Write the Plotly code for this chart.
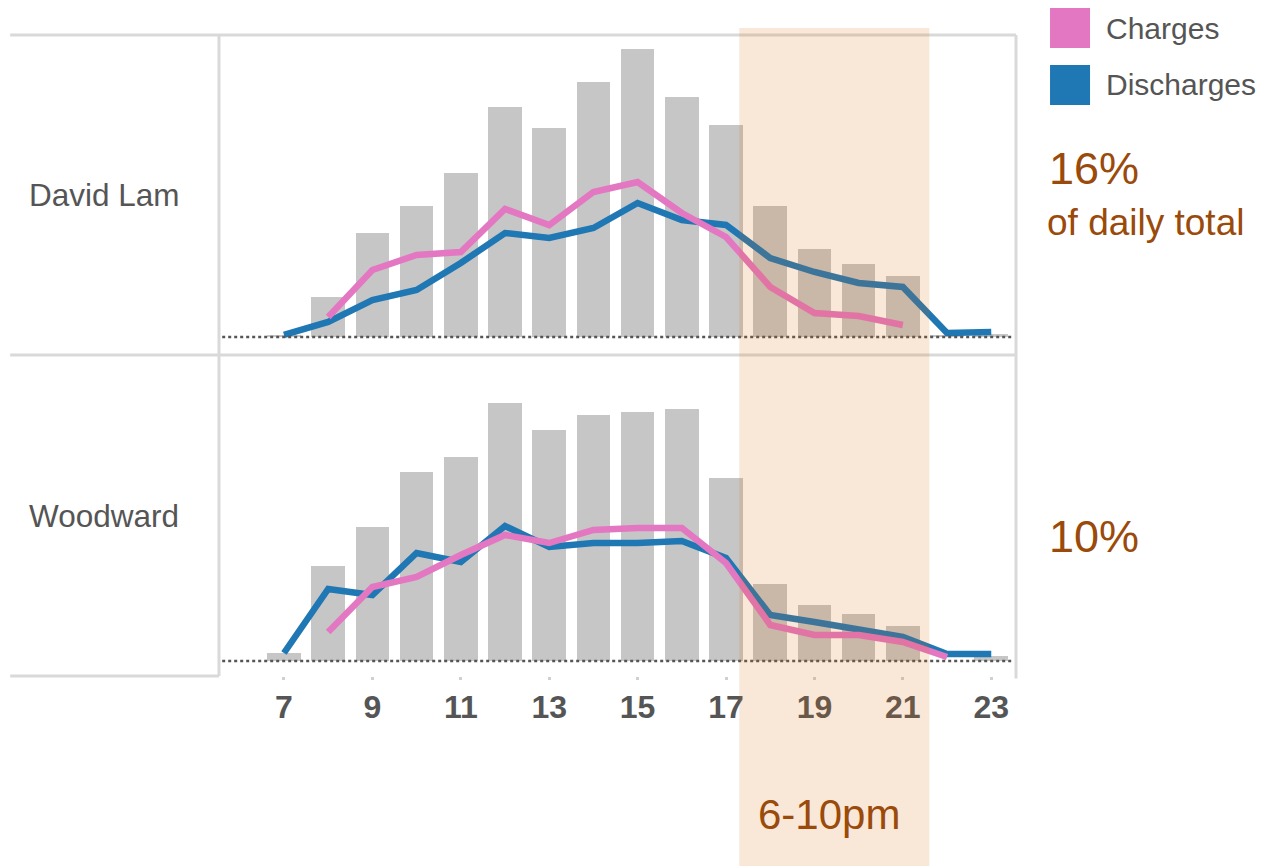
import plotly.graph_objects as go
from plotly.subplots import make_subplots

# hours of the day
hours = list(range(7, 24))
tick_hours = list(range(7, 24, 2))

# David Lam
lam_total = [2, 40, 104, 131, 164, 230, 209, 255, 288, 240, 212, 131, 88, 73, 61, 1, 3]
lam_charge_hours = list(range(8, 22))
lam_charges = [20, 67, 82, 85, 128, 112, 145, 155, 124, 100, 50, 24, 21, 12]
lam_discharges = [2, 15, 37, 47, 74, 104, 99, 109, 134, 117, 112, 79, 65, 54, 50, 4, 5]

# Woodward
wood_total = [8, 95, 134, 189, 204, 258, 231, 246, 249, 252, 183, 77, 56, 47, 35, 0, 5]
wood_charge_hours = list(range(8, 23))
wood_charges = [29, 74, 84, 106, 126, 118, 131, 133, 133, 98, 36, 26, 26, 19, 4]
wood_discharges = [8, 72, 66, 108, 99, 135, 114, 118, 118, 120, 103, 46, 39, 31, 24, 7, 7]

stations = ['David Lam', 'Woodward']
evening_share = ['16%', '10%']
peak_window = (17.3, 21.6)  # 6-10pm
peak_label = '6-10pm'

series_names = ['Charges', 'Discharges']
series_colors = ['#E377C2', '#1F77B4']
bar_color = '#C6C6C6'
accent = '#9A4A0A'
frame = '#D9D9D9'
font_family = 'Arial, Liberation Sans, sans-serif'

fig = make_subplots(rows=2, cols=1, shared_xaxes=True, vertical_spacing=0)

panels = [
    (lam_total, lam_charge_hours, lam_charges, lam_discharges),
    (wood_total, wood_charge_hours, wood_charges, wood_discharges),
]
for row, (total, ch_hours, charges, discharges) in enumerate(panels, start=1):
    fig.add_trace(go.Bar(x=hours, y=total, marker=dict(color=bar_color, line=dict(width=0)),
                         width=0.76, showlegend=False, hoverinfo='skip'), row=row, col=1)
    fig.add_trace(go.Scatter(x=hours, y=discharges, mode='lines', name=series_names[1],
                             line=dict(color=series_colors[1], width=6.5), showlegend=False),
                  row=row, col=1)
    fig.add_trace(go.Scatter(x=ch_hours, y=charges, mode='lines', name=series_names[0],
                             line=dict(color=series_colors[0], width=6.5), showlegend=False),
                  row=row, col=1)

fig.update_xaxes(range=[5.53, 23.56], showgrid=False, zeroline=False, showline=False)
fig.update_xaxes(tickvals=tick_hours, ticks='outside', ticklen=3, tickwidth=3, tickcolor='#D0D0D0',
                 tickfont=dict(size=32, color='#555555', family=font_family, weight='bold'),
                 row=2, col=1)
fig.update_yaxes(visible=False, showgrid=False, zeroline=False)
fig.update_yaxes(range=[-18, 302], domain=[0.5008, 1], row=1, col=1)
fig.update_yaxes(range=[-15, 306], domain=[0, 0.5008], row=2, col=1)

shapes = []
# frame lines
line = dict(color=frame, width=3)
shapes.append(dict(type='line', xref='paper', yref='paper', x0=-0.262, x1=1, y0=1, y1=1, line=line))
shapes.append(dict(type='line', xref='paper', yref='paper', x0=-0.262, x1=1, y0=0.5008, y1=0.5008, line=line))
shapes.append(dict(type='line', xref='paper', yref='paper', x0=-0.262, x1=0, y0=0, y1=0, line=line))
shapes.append(dict(type='line', xref='paper', yref='paper', x0=0, x1=0, y0=0, y1=1, line=line))
shapes.append(dict(type='line', xref='paper', yref='paper', x0=1, x1=1, y0=-0.004, y1=1, line=line))
# dotted baselines
for yref in ['y', 'y2']:
    shapes.append(dict(type='line', xref='paper', yref=yref, x0=0.004, x1=0.995, y0=0, y1=0,
                       line=dict(color='#555555', width=2.5, dash='dot'), layer='above'))
# evening highlight
shapes.append(dict(type='rect', xref='x', yref='paper', x0=peak_window[0], x1=peak_window[1],
                   y0=-0.31, y1=1.011, fillcolor='rgba(217,103,15,0.16)', line=dict(width=0),
                   layer='above'))
# legend squares
legend_y = [(0.9797, 1.0421), (0.8908, 0.9532)]
for (y0, y1), c in zip(legend_y, series_colors):
    shapes.append(dict(type='rect', xref='paper', yref='paper', x0=1.0427, x1=1.0929, y0=y0, y1=y1,
                       fillcolor=c, line=dict(width=0)))

annotations = []
for name, y in zip(series_names, [1.0109, 0.922]):
    annotations.append(dict(text=name, xref='paper', yref='paper', x=1.1105, y=y, xanchor='left',
                            yanchor='middle', showarrow=False,
                            font=dict(size=30, color='#555555', family=font_family)))
for name, y in zip(stations, [0.751, 0.2496]):
    annotations.append(dict(text=name, xref='paper', yref='paper', x=-0.2405, y=y, xanchor='left',
                            yanchor='middle', showarrow=False,
                            font=dict(size=31.5, color='#555555', family=font_family)))
for share, y in zip(evening_share, [0.7925, 0.2184]):
    annotations.append(dict(text=share, xref='paper', yref='paper', x=1.039, y=y, xanchor='left',
                            yanchor='middle', showarrow=False,
                            font=dict(size=45, color=accent, family=font_family)))
annotations.append(dict(text='of daily total', xref='paper', yref='paper', x=1.036, y=0.708,
                        xanchor='left', yanchor='middle', showarrow=False,
                        font=dict(size=37, color=accent, family=font_family)))
annotations.append(dict(text=peak_label, xref='paper', yref='paper', x=0.765, y=-0.2153,
                        xanchor='center', yanchor='middle', showarrow=False,
                        font=dict(size=42, color=accent, family=font_family)))

# the page puts the figure 8px in from the top left corner
fig.update_layout(
    width=1260, height=858,
    margin=dict(l=211, r=252, t=27, b=190),
    plot_bgcolor='white', paper_bgcolor='white',
    showlegend=False, bargap=0,
    shapes=shapes, annotations=annotations,
    font=dict(family=font_family),
)

fig.write_html("out.html")
